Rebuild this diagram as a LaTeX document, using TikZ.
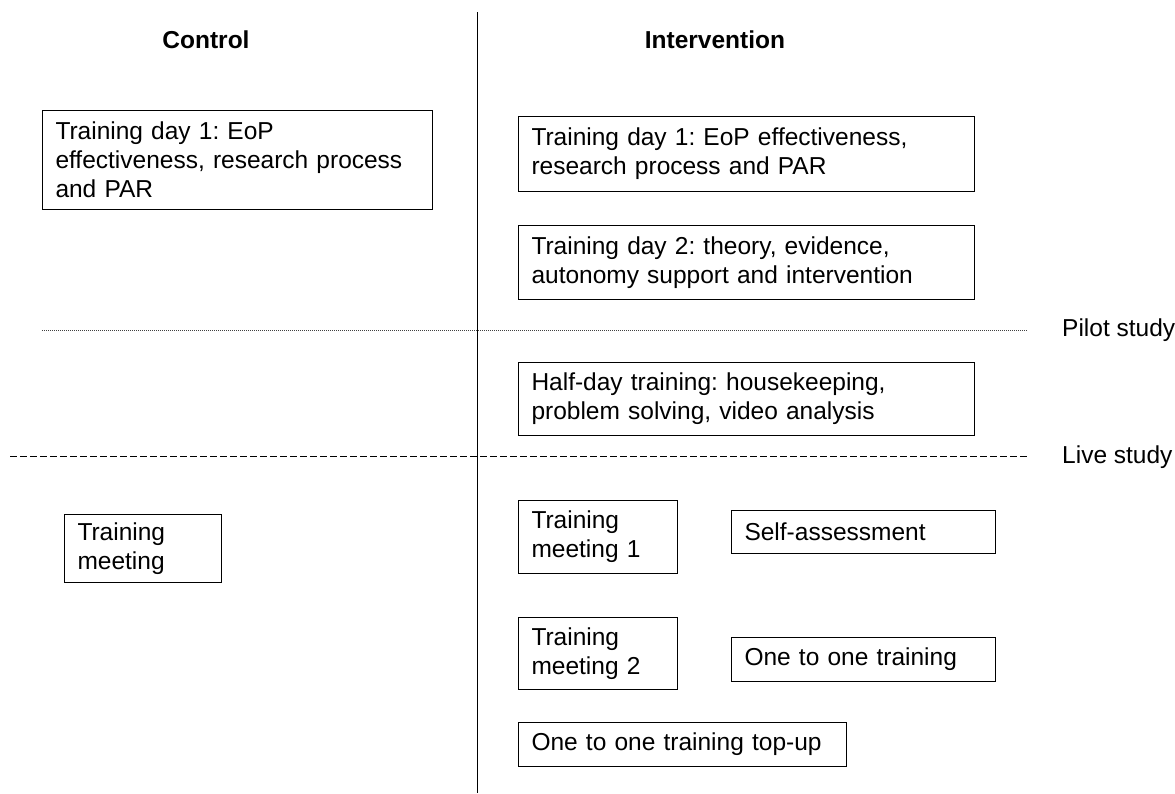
\documentclass[tikz,border=0pt]{standalone}
\usepackage{fontspec}
\setmainfont{Liberation Sans}
\frenchspacing
\usetikzlibrary{positioning}
\tikzset{
    every node/.style = {font=\fontsize{24.5}{29}\selectfont},
    box/.style = {draw, line width=1pt, align=left, anchor=north west, inner xsep=13pt, inner ysep=0pt},
    heading/.style = {font=\fontsize{24.5}{29}\selectfont\bfseries},
    phase/.style = {anchor=west, inner sep=0pt},
    pilotline/.style = {line width=0.8pt, black!75, dash pattern=on 1pt off 1pt},
    liveline/.style = {line width=1pt, dash pattern=on 6.5pt off 3.5pt}
}

\begin{document}
\begin{tikzpicture}[x=1pt, y=-1pt]
    \useasboundingbox (0,0) rectangle (1175,793);

    % column headings
    \node[heading] (control) at (206,40) {Control};
    \node[heading] (intervention) at (715,40) {Intervention};

    % control arm
    \node[box, text width=364pt, minimum height=99pt] (c day1) at (42,110)
        {Training day 1: EoP\\effectiveness, research process\\and PAR};
    \node[box, text width=131pt, minimum height=68pt] (c meet) at (64,514)
        {Training\\meeting};

    % intervention arm
    \node[box, text width=430pt, minimum height=75pt] (i day1) at (518,116)
        {Training day 1: EoP effectiveness,\\research process and PAR};
    \node[box, text width=430pt, minimum height=74pt, below=33pt of i day1.south west, anchor=north west] (i day2)
        {Training day 2: theory, evidence,\\autonomy support and intervention};
    \node[box, text width=430pt, minimum height=73pt] (i half) at (518,362)
        {Half-day training: housekeeping,\\problem solving, video analysis};
    \node[box, text width=133pt, minimum height=73pt] (i meet1) at (518,500)
        {Training\\meeting 1};
    \node[box, text width=238pt, minimum height=43pt] (i self) at (731,510)
        {Self-assessment};
    \node[box, text width=133pt, minimum height=72pt] (i meet2) at (518,617)
        {Training\\meeting 2};
    \node[box, text width=238pt, minimum height=44pt] (i one) at (731,637)
        {One to one training};
    \node[box, text width=302pt, minimum height=44pt] (i topup) at (518,722)
        {One to one training top-up};

    % dividers
    \coordinate (split top) at (477,12);
    \coordinate (split bottom) at (477,793);
    \coordinate (pilot west) at (42,330);
    \coordinate (pilot east) at (1027,330);
    \coordinate (live west) at (10,456);
    \coordinate (live east) at (1027,456);
    \draw[line width=1pt] (split top) -- (split bottom);
    \draw[pilotline] (pilot west) -- (pilot east);
    \draw[liveline] (live west) -- (live east);

    \node[phase] (pilot) at (1062,330) {Pilot study};
    \node[phase] (live) at (1062,457) {Live study};
\end{tikzpicture}
\end{document}
